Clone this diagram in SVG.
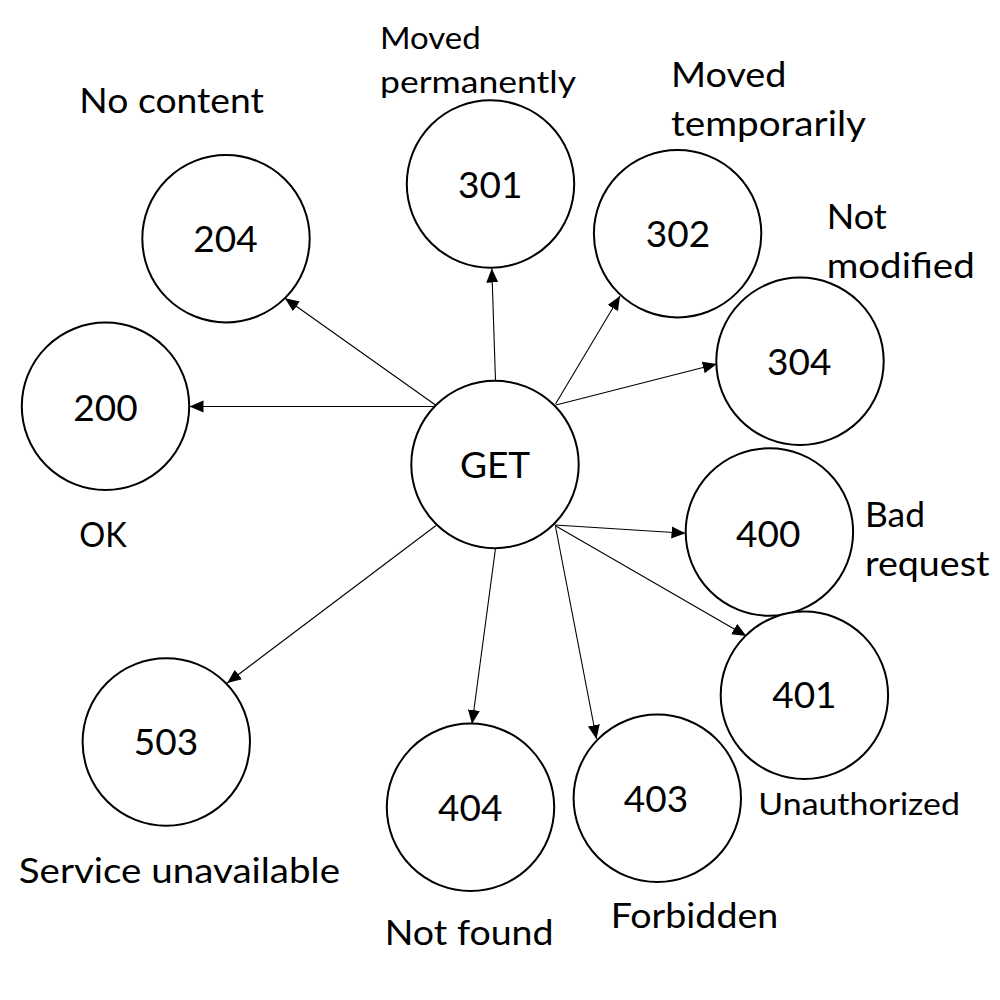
<svg xmlns="http://www.w3.org/2000/svg" width="1000" height="1000" viewBox="0 0 1000 1000">
<style>
  .node { fill: #ffffff; stroke: #000000; stroke-width: 2; }
  .num { font-family: Lato, "Open Sans", "Liberation Sans", sans-serif; font-size: 37px; fill: #000000; text-anchor: middle; }
  .lbl { font-family: Lato, "Open Sans", "Liberation Sans", sans-serif; font-size: 35px; fill: #000000; }
  .lbl-s { font-family: Lato, "Open Sans", "Liberation Sans", sans-serif; font-size: 30px; fill: #000000; }
  .edge { stroke: #000000; stroke-width: 1.1; fill: none; marker-end: url(#arrow); }
</style>
<defs>
  <marker id="arrow" markerUnits="userSpaceOnUse" markerWidth="15" markerHeight="13" refX="14" refY="6" orient="auto">
    <path d="M0,0 L14,6 L0,12 z" fill="#000000"/>
  </marker>
</defs>
<rect x="0" y="0" width="1000" height="1000" fill="#ffffff"/>

<g id="connectors">
  <line class="edge" x1="435" y1="406.5" x2="189.5" y2="406.5"/>
  <line class="edge" x1="435.5" y1="405" x2="285" y2="298.3"/>
  <line class="edge" x1="495.5" y1="380.5" x2="491.8" y2="268.5"/>
  <line class="edge" x1="555.5" y1="404" x2="620" y2="296"/>
  <line class="edge" x1="556" y1="405" x2="716.8" y2="364"/>
  <line class="edge" x1="555" y1="525" x2="685.5" y2="533.3"/>
  <line class="edge" x1="555" y1="525.5" x2="746.3" y2="636"/>
  <line class="edge" x1="555.5" y1="526.5" x2="596.5" y2="739"/>
  <line class="edge" x1="495.5" y1="548.5" x2="472" y2="724"/>
  <line class="edge" x1="436" y1="525.5" x2="227.2" y2="683"/>
</g>

<g id="node-get">
  <circle class="node" cx="495" cy="464.5" r="83.7"/>
  <text class="num" x="495" y="478.3">GET</text>
</g>

<g id="node-200">
  <circle class="node" cx="105.5" cy="406.3" r="83.7"/>
  <text class="num" x="105.5" y="420.5">200</text>
  <text class="lbl" x="79.2" y="547" textLength="47.5" lengthAdjust="spacingAndGlyphs">OK</text>
</g>

<g id="node-204">
  <circle class="node" cx="226" cy="238.7" r="83.7"/>
  <text class="num" x="225.5" y="252">204</text>
  <text class="lbl" x="79.3" y="113" textLength="184.7" lengthAdjust="spacingAndGlyphs">No content</text>
</g>

<g id="node-301">
  <circle class="node" cx="490.5" cy="184" r="83.7"/>
  <text class="num" x="490.3" y="197.5">301</text>
  <text class="lbl-s" x="380" y="49" textLength="100.7" lengthAdjust="spacingAndGlyphs">Moved</text>
  <text class="lbl-s" x="380" y="93" textLength="196" lengthAdjust="spacingAndGlyphs">permanently</text>
</g>

<g id="node-302">
  <circle class="node" cx="677.6" cy="233.7" r="83.7"/>
  <text class="num" x="678" y="247.3">302</text>
  <text class="lbl" x="671" y="87.3" textLength="115.5" lengthAdjust="spacingAndGlyphs">Moved</text>
  <text class="lbl" x="671" y="136" textLength="195" lengthAdjust="spacingAndGlyphs">temporarily</text>
</g>

<g id="node-304">
  <circle class="node" cx="800" cy="361.3" r="83.7"/>
  <text class="num" x="799.3" y="375">304</text>
  <text class="lbl" x="826.7" y="229.3" textLength="60" lengthAdjust="spacingAndGlyphs">Not</text>
  <text class="lbl" x="826.7" y="278.3" textLength="148" lengthAdjust="spacingAndGlyphs">modified</text>
</g>

<g id="node-400">
  <circle class="node" cx="769.4" cy="532" r="83.7"/>
  <text class="num" x="768.3" y="546.5">400</text>
  <text class="lbl" x="865" y="526.7" textLength="60" lengthAdjust="spacingAndGlyphs">Bad</text>
  <text class="lbl" x="865" y="575.7" textLength="124.4" lengthAdjust="spacingAndGlyphs">request</text>
</g>

<g id="node-401">
  <circle class="node" cx="804.4" cy="695.3" r="83.7"/>
  <text class="num" x="804.4" y="708.3">401</text>
  <text class="lbl-s" x="758.3" y="815" textLength="201.7" lengthAdjust="spacingAndGlyphs">Unauthorized</text>
</g>

<g id="node-403">
  <circle class="node" cx="657.3" cy="798.3" r="83.7"/>
  <text class="num" x="656" y="811.7">403</text>
  <text class="lbl" x="610.7" y="928.3" textLength="167.6" lengthAdjust="spacingAndGlyphs">Forbidden</text>
</g>

<g id="node-404">
  <circle class="node" cx="470.5" cy="807.3" r="83.7"/>
  <text class="num" x="470.3" y="820.7">404</text>
  <text class="lbl" x="384.8" y="945" textLength="168.8" lengthAdjust="spacingAndGlyphs">Not found</text>
</g>

<g id="node-503">
  <circle class="node" cx="166.3" cy="742" r="83.7"/>
  <text class="num" x="166" y="755">503</text>
  <text class="lbl" x="18.8" y="882.5" textLength="321.2" lengthAdjust="spacingAndGlyphs">Service unavailable</text>
</g>
</svg>
